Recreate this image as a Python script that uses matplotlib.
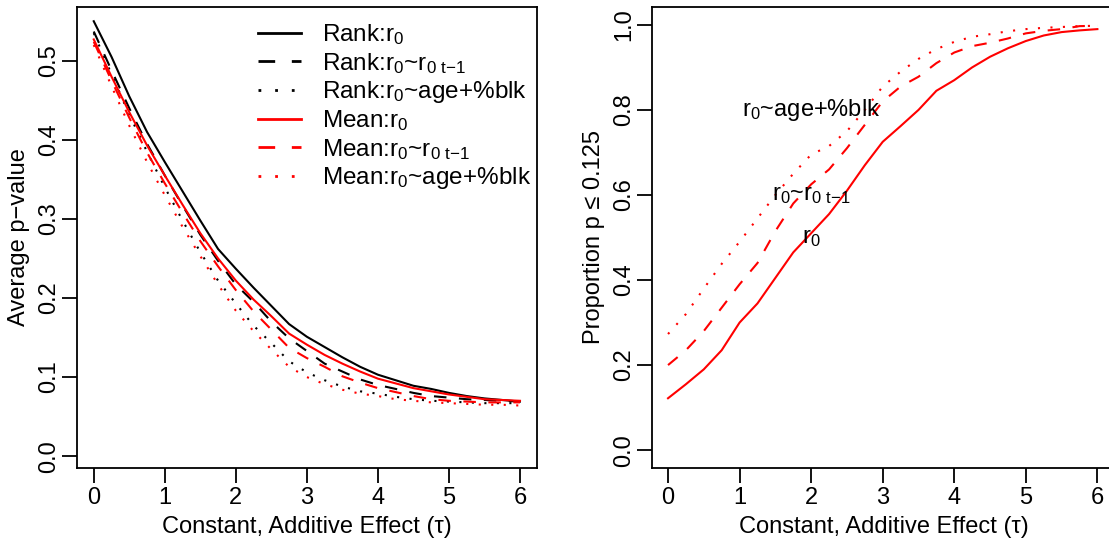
import numpy as np
import matplotlib
matplotlib.use('Agg')
import matplotlib.pyplot as plt

plt.rcParams['font.family'] = ['Liberation Sans', 'DejaVu Sans']
plt.rcParams['mathtext.fontset'] = 'custom'
plt.rcParams['mathtext.rm'] = 'Liberation Sans'
plt.rcParams['mathtext.it'] = 'Liberation Sans'
plt.rcParams['mathtext.default'] = 'rm'

FS = 17

tau = [0, 0.25, 0.5, 0.75, 1.0, 1.25, 1.5, 1.75, 2.0, 2.25, 2.5, 2.75, 3.0,
       3.25, 3.5, 3.75, 4.0, 4.25, 4.5, 4.75, 5.0, 5.25, 5.5, 5.75, 6.0]

# average p-values (left panel)
rank_r0 = [0.550, 0.505, 0.455, 0.410, 0.372, 0.335, 0.298, 0.262, 0.237, 0.213, 0.190, 0.167, 0.151,
           0.138, 0.125, 0.113, 0.103, 0.096, 0.089, 0.085, 0.080, 0.076, 0.073, 0.071, 0.069]
rank_lag = [0.537, 0.488, 0.440, 0.395, 0.355, 0.317, 0.280, 0.247, 0.217, 0.195, 0.170, 0.149, 0.133,
            0.117, 0.107, 0.097, 0.090, 0.085, 0.080, 0.076, 0.074, 0.072, 0.071, 0.070, 0.069]
rank_cov = [0.535, 0.483, 0.432, 0.385, 0.340, 0.298, 0.258, 0.222, 0.193, 0.165, 0.143, 0.120, 0.106,
            0.096, 0.088, 0.082, 0.079, 0.075, 0.072, 0.070, 0.069, 0.068, 0.067, 0.067, 0.067]
mean_r0 = [0.527, 0.480, 0.435, 0.393, 0.355, 0.318, 0.282, 0.250, 0.222, 0.198, 0.177, 0.155, 0.141,
           0.128, 0.117, 0.107, 0.098, 0.092, 0.086, 0.082, 0.078, 0.075, 0.072, 0.071, 0.070]
mean_lag = [0.524, 0.475, 0.428, 0.384, 0.345, 0.308, 0.272, 0.240, 0.210, 0.183, 0.160, 0.137, 0.124,
            0.113, 0.101, 0.093, 0.086, 0.081, 0.076, 0.072, 0.070, 0.069, 0.068, 0.068, 0.068]
mean_cov = [0.520, 0.468, 0.418, 0.372, 0.330, 0.290, 0.253, 0.217, 0.184, 0.158, 0.135, 0.113, 0.100,
            0.091, 0.084, 0.079, 0.076, 0.072, 0.070, 0.068, 0.067, 0.066, 0.065, 0.065, 0.064]

# proportion p <= 0.125 (right panel, mean statistic)
prop_r0 = [0.122, 0.155, 0.190, 0.235, 0.300, 0.345, 0.405, 0.465, 0.510, 0.555, 0.610, 0.670, 0.725,
           0.762, 0.800, 0.845, 0.870, 0.900, 0.925, 0.945, 0.962, 0.975, 0.983, 0.987, 0.990]
prop_lag = [0.200, 0.235, 0.280, 0.335, 0.390, 0.440, 0.515, 0.580, 0.625, 0.660, 0.710, 0.765, 0.820,
            0.855, 0.878, 0.910, 0.935, 0.950, 0.958, 0.968, 0.980, 0.986, 0.990, 0.997, 0.998]
prop_cov = [0.273, 0.320, 0.380, 0.438, 0.490, 0.545, 0.600, 0.650, 0.695, 0.715, 0.750, 0.800, 0.855,
            0.890, 0.920, 0.943, 0.960, 0.972, 0.978, 0.985, 0.990, 0.993, 0.995, 0.997, 0.998]

lab_r0 = 'r$_0$'
lab_lag = 'r$_0$~r$_{0\\ t\\!-\\!1}$'
lab_cov = 'r$_0$~age+%blk'

SOLID = '-'
DASHED = (0, (6, 6))
DOTTED = (0, (1, 5))
LW = 1.5


def style_axes(ax):
    for s in ax.spines.values():
        s.set_linewidth(1.3)
    ax.tick_params(length=10.5, width=1.3, labelsize=FS, pad=3.5)
    ax.tick_params(axis='y', pad=1.5)
    ax.set_xticks(range(7))
    for t in ax.get_yticklabels():
        t.set_rotation(90)
        t.set_va('center')
    ax.set_xlabel('Constant, Additive Effect (\u03c4)', fontsize=FS, labelpad=5)


fig = plt.figure(figsize=(11.09, 5.43), dpi=100)
ax1 = fig.add_axes([76.7 / 1109, 75 / 543, 460.3 / 1109, 461 / 543])
ax2 = fig.add_axes([652 / 1109, 75 / 543, 464 / 1109, 461 / 543])

series = [
    (rank_r0, 'black', SOLID, 'Rank:' + lab_r0),
    (rank_lag, 'black', DASHED, 'Rank:' + lab_lag),
    (rank_cov, 'black', DOTTED, 'Rank:' + lab_cov),
    (mean_r0, 'red', SOLID, 'Mean:' + lab_r0),
    (mean_lag, 'red', DASHED, 'Mean:' + lab_lag),
    (mean_cov, 'red', DOTTED, 'Mean:' + lab_cov),
]
for vals, col, ls, lab in series:
    ax1.plot(tau, vals, color=col, linestyle=ls, linewidth=LW, label=lab)

ax1.set_xlim(-0.24, 6.24)
ax1.set_ylim(-0.015, 0.568)
ax1.set_yticks([0.0, 0.1, 0.2, 0.3, 0.4, 0.5])
ax1.set_yticklabels(['0.0', '0.1', '0.2', '0.3', '0.4', '0.5'])
ax1.set_ylabel('Average p\u2212value', fontsize=FS, labelpad=6)
style_axes(ax1)
leg = ax1.legend(loc='upper right', bbox_to_anchor=(1.012, 0.99), frameon=False, fontsize=17.5,
                 handlelength=1.75, handletextpad=0.9, labelspacing=0.14, borderaxespad=0.05)
for h in leg.get_lines():
    h.set_linewidth(2.0)

ax2.plot(tau, prop_r0, color='red', linestyle=SOLID, linewidth=LW)
ax2.plot(tau, prop_lag, color='red', linestyle=DASHED, linewidth=LW)
ax2.plot(tau, prop_cov, color='red', linestyle=DOTTED, linewidth=LW)
ax2.text(2.0, 0.8, lab_cov, fontsize=FS, ha='center', va='center')
ax2.text(2.0, 0.6, lab_lag, fontsize=FS, ha='center', va='center')
ax2.text(2.0, 0.5, lab_r0, fontsize=FS, ha='center', va='center')
# axes is a bit wider than its data span so the right border falls off the canvas
ax2.set_xlim(-0.224, 6.26)
ax2.set_ylim(-0.042, 1.042)
ax2.set_yticks([0.0, 0.2, 0.4, 0.6, 0.8, 1.0])
ax2.set_yticklabels(['0.0', '0.2', '0.4', '0.6', '0.8', '1.0'])
ax2.set_ylabel('Proportion p \u2264 0.125', fontsize=FS, labelpad=6)
style_axes(ax2)

fig.savefig('out.png', dpi=100)
